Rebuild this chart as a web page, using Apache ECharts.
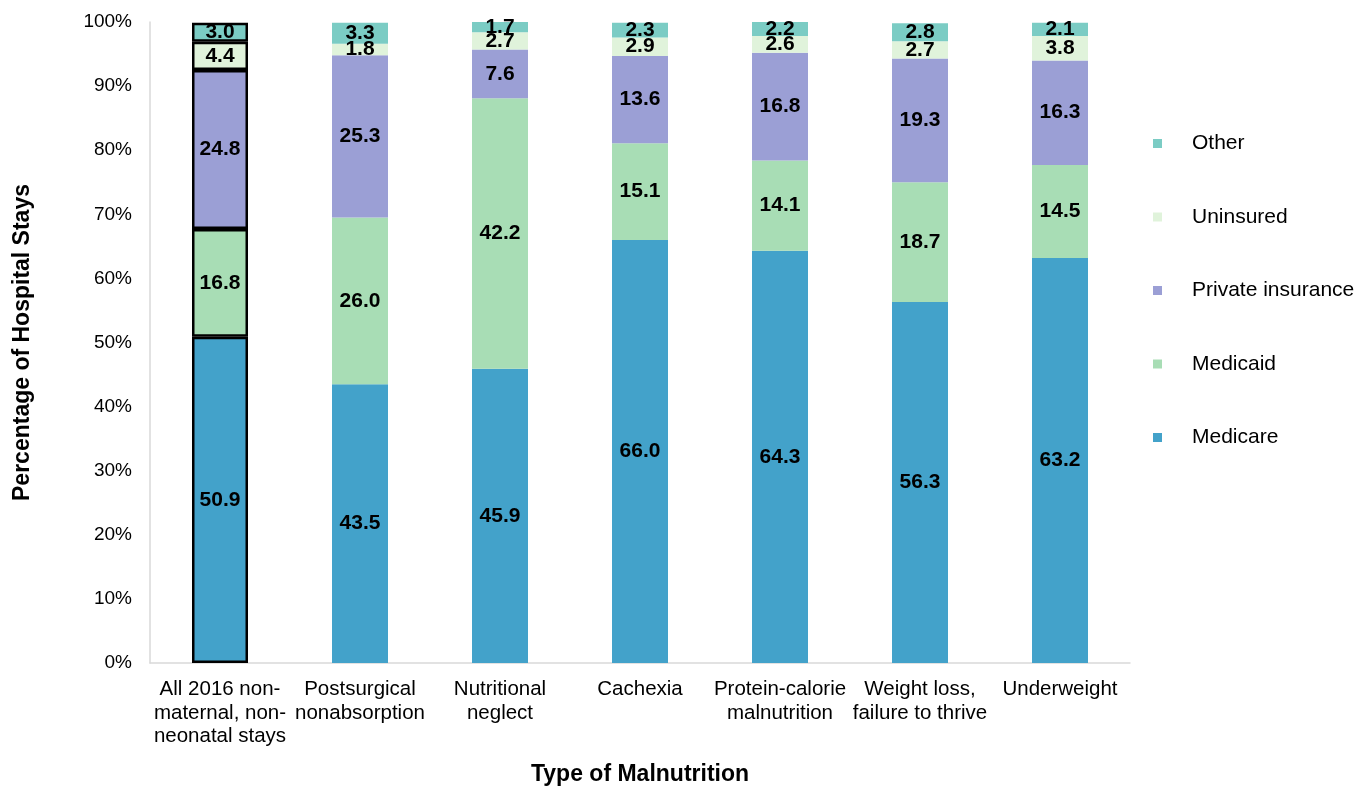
<!DOCTYPE html>
<html>
<head>
<meta charset="utf-8">
<script src="https://cdn.jsdelivr.net/npm/echarts@6/dist/echarts.min.js"></script>
<style>
  html, body { margin: 0; padding: 0; background: #fff; }
  #chart { width: 1369px; height: 786px; }
</style>
</head>
<body>
<div id="chart"></div>
<script>
// Expected payer for hospital stays, by type of malnutrition (percent)
const categories = [
  'All 2016 non-\nmaternal, non-\nneonatal stays',
  'Postsurgical\nnonabsorption',
  'Nutritional\nneglect',
  'Cachexia',
  'Protein-calorie\nmalnutrition',
  'Weight loss,\nfailure to thrive',
  'Underweight'
];
const medicare  = [50.9, 43.5, 45.9, 66.0, 64.3, 56.3, 63.2];
const medicaid  = [16.8, 26.0, 42.2, 15.1, 14.1, 18.7, 14.5];
const privateIns = [24.8, 25.3, 7.6, 13.6, 16.8, 19.3, 16.3];
const uninsured = [4.4, 1.8, 2.7, 2.9, 2.6, 2.7, 3.8];
const other     = [3.0, 3.3, 1.7, 2.3, 2.2, 2.8, 2.1];
const yTicks = [0, 10, 20, 30, 40, 50, 60, 70, 80, 90, 100];

const seriesDefs = [
  { name: 'Medicare', data: medicare, color: '#43a2ca' },
  { name: 'Medicaid', data: medicaid, color: '#a8ddb5' },
  { name: 'Private insurance', data: privateIns, color: '#9b9fd5' },
  { name: 'Uninsured', data: uninsured, color: '#e0f3db' },
  { name: 'Other', data: other, color: '#7bccc4' }
];

const font = 'Liberation Sans, Arial, sans-serif';

const chart = echarts.init(document.getElementById('chart'), null, { renderer: 'canvas' });

chart.setOption({
  animation: false,
  textStyle: { fontFamily: font },
  grid: {
    left: 150, right: 239, top: 22, bottom: 123,
    containLabel: false,
    outerBoundsMode: 'none'
  },
  legend: {
    orient: 'vertical',
    left: 1148,
    top: 128,
    itemWidth: 9,
    itemHeight: 9,
    itemGap: 52.5,
    icon: 'rect',
    data: seriesDefs.map(s => s.name).reverse(),
    textStyle: { fontSize: 21, color: '#000', fontFamily: font, padding: [0, 0, 0, 25] }
  },
  xAxis: {
    type: 'category',
    data: categories,
    name: 'Type of Malnutrition',
    nameLocation: 'middle',
    nameGap: 100,
    nameTextStyle: { fontSize: 23, fontWeight: 'bold', color: '#000', fontFamily: font },
    axisLine: { lineStyle: { color: '#d9d9d9', width: 1.5 } },
    axisTick: { show: false },
    axisLabel: { fontSize: 20.5, color: '#000', lineHeight: 23.5, margin: 15, interval: 0, fontFamily: font }
  },
  yAxis: {
    type: 'value',
    min: 0,
    max: 100,
    interval: 10,
    name: 'Percentage of Hospital Stays',
    nameLocation: 'middle',
    nameGap: 116,
    nameTextStyle: { fontSize: 23, fontWeight: 'bold', color: '#000', fontFamily: font },
    axisLine: { show: true, lineStyle: { color: '#d9d9d9', width: 1.5 } },
    axisTick: { show: false },
    splitLine: { show: false },
    axisLabel: {
      fontSize: 19, color: '#000', margin: 18, fontFamily: font,
      formatter: v => yTicks.includes(v) ? v + '%' : ''
    }
  },
  series: seriesDefs.map(s => ({
    name: s.name,
    type: 'bar',
    stack: 'total',
    barWidth: '40%',
    itemStyle: { color: s.color },
    label: {
      show: true,
      position: 'inside',
      fontSize: 21,
      fontWeight: 'bold',
      color: '#000',
      fontFamily: font,
      formatter: p => p.value.toFixed(1)
    },
    data: s.data.map((v, i) => i === 0
      ? { value: v, itemStyle: { color: s.color, borderColor: '#000', borderWidth: 2.5 } }
      : v)
  }))
});
</script>
</body>
</html>
